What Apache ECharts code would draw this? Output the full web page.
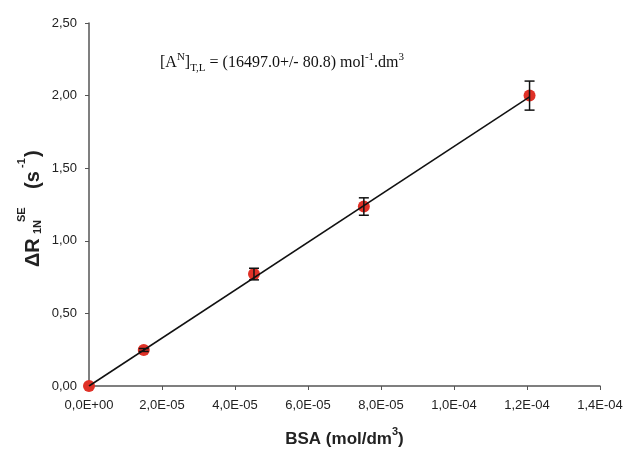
<!DOCTYPE html>
<html>
<head>
<meta charset="utf-8">
<script src="https://cdn.jsdelivr.net/npm/echarts@6/dist/echarts.min.js"></script>
<style>
  html, body { margin: 0; padding: 0; background: #fff; }
  #main { width: 630px; height: 450px; }
</style>
</head>
<body>
<div id="main"></div>
<script>
// BSA concentration (mol/dm3) and relaxation rate difference (s-1)
var bsa = [0, 1.5e-5, 4.52e-5, 7.53e-5, 1.207e-4];
var deltaR = [0, 0.248, 0.771, 1.236, 2.0];
var errR = [0, 0.01, 0.04, 0.06, 0.1];
// linear fit, slope 16497
var fitX = [0, 1.207e-4];
var fitY = [0, 1.991];

var pts = bsa.map(function (x, i) { return [x, deltaR[i]]; });
var errData = bsa.map(function (x, i) { return [x, deltaR[i], errR[i]]; });
var fitData = fitX.map(function (x, i) { return [x, fitY[i]]; });

var sans = '"Liberation Sans", Arial, sans-serif';
var serif = '"Liberation Serif", "Times New Roman", serif';

var myChart = echarts.init(document.getElementById('main'));
myChart.setOption({
  animation: false,
  grid: { left: 89, right: 30, top: 23, bottom: 64, outerBoundsMode: 'none', containLabel: false },
  xAxis: {
    type: 'value',
    min: 0,
    max: 1.4e-4,
    interval: 2e-5,
    splitLine: { show: false },
    axisLine: { lineStyle: { color: '#555', width: 1.5 } },
    axisTick: { show: true, length: 4, lineStyle: { color: '#555' } },
    axisLabel: {
      color: '#222', fontSize: 13, fontFamily: sans, margin: 13,
      formatter: function (v) {
        var s = v.toExponential(1).split('e');
        var exp = parseInt(s[1], 10);
        var e = (exp < 0 ? '-' : '+') + (Math.abs(exp) < 10 ? '0' : '') + Math.abs(exp);
        return s[0].replace('.', ',') + 'E' + e;
      }
    },
    name: '{b|BSA (mol/dm}{sup|3}{b|)}',
    nameLocation: 'middle',
    nameGap: 40,
    nameTextStyle: {
      rich: {
        b: { fontSize: 17, fontWeight: 'bold', fontFamily: sans, color: '#222', lineHeight: 22, verticalAlign: 'bottom' },
        sup: { fontSize: 11, fontWeight: 'bold', fontFamily: sans, color: '#222', lineHeight: 22, verticalAlign: 'top' }
      }
    }
  },
  yAxis: {
    type: 'value',
    min: 0,
    max: 2.5,
    interval: 0.5,
    splitLine: { show: false },
    axisLine: { show: true, lineStyle: { color: '#555', width: 1.5 } },
    axisTick: { show: true, length: 4, lineStyle: { color: '#555' } },
    axisLabel: {
      color: '#222', fontSize: 13, fontFamily: sans, margin: 12,
      formatter: function (v) { return v.toFixed(2).replace('.', ','); }
    }
  },
  graphic: [
    {
      type: 'text',
      left: 160,
      top: 52,
      style: {
        text: '{m|[A}{sup|N}{m|]}{sub|T,L}{m| = (16497.0+/- 80.8) mol}{sup|-1}{m|.dm}{sup|3}',
        rich: {
          m: { fontSize: 16, fontFamily: serif, fill: '#111', lineHeight: 22, verticalAlign: 'middle' },
          sup: { fontSize: 11, fontFamily: serif, fill: '#111', lineHeight: 22, verticalAlign: 'top' },
          sub: { fontSize: 11, fontFamily: serif, fill: '#111', lineHeight: 22, verticalAlign: 'bottom' }
        }
      }
    },
    {
      // rotated y axis title
      type: 'group',
      x: 0,
      y: 267,
      rotation: Math.PI / 2,
      children: [
        { type: 'text', x: 0, y: 33.5, style: { text: '\u0394R', font: 'bold 20px ' + sans, fill: '#222', verticalAlign: 'middle' } },
        { type: 'text', x: 33, y: 38, style: { text: '1N', font: 'bold 11px ' + sans, fill: '#222', verticalAlign: 'middle' } },
        { type: 'text', x: 45, y: 22, style: { text: 'SE', font: 'bold 11px ' + sans, fill: '#222', verticalAlign: 'middle' } },
        { type: 'text', x: 78, y: 33.5, style: { text: '(s', font: 'bold 20px ' + sans, fill: '#222', verticalAlign: 'middle' } },
        { type: 'text', x: 99, y: 22, style: { text: '-1', font: 'bold 11px ' + sans, fill: '#222', verticalAlign: 'middle' } },
        { type: 'text', x: 110, y: 33.5, style: { text: ')', font: 'bold 20px ' + sans, fill: '#222', verticalAlign: 'middle' } }
      ]
    }
  ],
  series: [
    {
      type: 'scatter',
      data: pts,
      symbol: 'circle',
      symbolSize: 12,
      itemStyle: { color: '#e03127', opacity: 1 },
      z: 2
    },
    {
      type: 'line',
      data: fitData,
      showSymbol: false,
      symbol: 'none',
      lineStyle: { color: '#111', width: 1.5 },
      z: 3
    },
    {
      type: 'custom',
      data: errData,
      z: 4,
      renderItem: function (params, api) {
        var x = api.value(0), y = api.value(1), e = api.value(2);
        if (!e) return null;
        var top = api.coord([x, y + e]);
        var bot = api.coord([x, y - e]);
        var hw = 5;
        var st = { stroke: '#111', lineWidth: 1.5 };
        return {
          type: 'group',
          children: [
            { type: 'line', shape: { x1: top[0], y1: top[1], x2: bot[0], y2: bot[1] }, style: st },
            { type: 'line', shape: { x1: top[0] - hw, y1: top[1], x2: top[0] + hw, y2: top[1] }, style: st },
            { type: 'line', shape: { x1: bot[0] - hw, y1: bot[1], x2: bot[0] + hw, y2: bot[1] }, style: st }
          ]
        };
      }
    }
  ]
});
</script>
</body>
</html>
